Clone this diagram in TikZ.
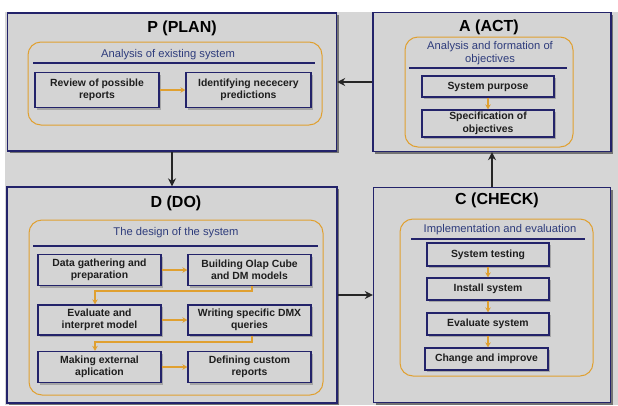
\documentclass[tikz,border=0pt]{standalone}
\usepackage{fontspec}
\setmainfont{Liberation Sans}
\usetikzlibrary{shadows,arrows.meta}
\definecolor{navy}{HTML}{23236A}
\definecolor{bgrey}{HTML}{D6D6D6}
\definecolor{boxgrey}{HTML}{D4D4D4}
\definecolor{orng}{HTML}{E0A030}
\definecolor{subblue}{HTML}{2E3C7C}
\definecolor{txt}{HTML}{1E1E1E}
\tikzset{
  outerbox/.style={draw=navy, line width=1.3pt, fill=boxgrey, inner sep=0pt,
    drop shadow={shadow xshift=2pt, shadow yshift=-2pt, fill=black!55, opacity=1}},
  group/.style={draw=orng, line width=1pt, rounded corners=13pt, inner sep=0pt},
  stepbox/.style={draw=navy, line width=1.3pt, fill=boxgrey, inner sep=0pt, align=center,
    font=\bfseries\fontsize{10.4}{12.5}\selectfont, text=txt,
    drop shadow={shadow xshift=2pt, shadow yshift=-2pt, fill=black!35, opacity=1}},
  maintitle/.style={font=\bfseries\fontsize{16}{18}\selectfont, text=black, inner sep=0pt},
  subtitle/.style={font=\fontsize{11.2}{13}\selectfont, text=subblue, inner sep=0pt, align=center},
  rule/.style={draw=navy, line width=1.3pt},
  bigarrow/.style={draw=black!85, line width=1.8pt, -{Stealth[length=8pt,width=8pt]}},
  smallarrow/.style={draw=orng, line width=1.5pt, -{Stealth[length=5pt,width=5.5pt]}}
}
\begin{document}
\begin{tikzpicture}[x=1pt,y=-1pt]
\useasboundingbox (0,0) rectangle (618,405);
\fill[bgrey] (5,12) rectangle (618,405);

% outer boxes
\node[outerbox, minimum width=329pt, minimum height=138pt] (P) at (172,82) {};
\node[outerbox, minimum width=238pt, minimum height=139pt] (A) at (492,82) {};
\node[outerbox, minimum width=330pt, minimum height=216pt] (D) at (172,295) {};
\node[outerbox, minimum width=237pt, minimum height=215pt] (C) at (492,295) {};

% titles
\node[maintitle] (Pt) at (182,28) {P (PLAN)};
\node[maintitle] (At) at (489,27.5) {A (ACT)};
\node[maintitle] (Dt) at (176,203) {D (DO)};
\node[maintitle] (Ct) at (497,200) {C (CHECK)};

% ---- PLAN
\node[group, minimum width=294pt, minimum height=83pt] (Pg) at (175,83.5) {};
\node[subtitle] (Ps) at (168,55) {Analysis of existing system};
\coordinate (Pl1) at (33,63); \coordinate (Pl2) at (315,63);
\draw[rule] (Pl1) -- (Pl2);
\node[stepbox, minimum width=124pt, minimum height=35pt] (P1) at (97,90) {Review of possible\\reports};
\node[stepbox, minimum width=125pt, minimum height=35pt] (P2) at (248.5,90) {Identifying nececery\\predictions};
\draw[smallarrow] (P1) -- (P2);

% ---- ACT
\node[group, minimum width=168pt, minimum height=110pt] (Ag) at (489,92) {};
\node[subtitle] (As) at (490,53.5) {Analysis and formation of\\objectives};
\coordinate (Al1) at (409,68); \coordinate (Al2) at (567,68);
\draw[rule] (Al1) -- (Al2);
\node[stepbox, minimum width=132pt, minimum height=21pt] (A1) at (488,86.5) {System purpose};
\node[stepbox, minimum width=132pt, minimum height=27pt] (A2) at (488,123.5) {Specification of\\objectives};
\draw[smallarrow] (A1) -- (A2);

% ---- DO
\node[group, minimum width=294pt, minimum height=175pt] (Dg) at (176,307.5) {};
\node[subtitle] (Ds) at (176,233) {The design of the system};
\coordinate (Dl1) at (33,246); \coordinate (Dl2) at (318,246);
\draw[rule] (Dl1) -- (Dl2);
\node[stepbox, minimum width=123pt, minimum height=31pt] (D1) at (99.5,270) {Data gathering and\\preparation};
\node[stepbox, minimum width=123pt, minimum height=31pt] (D2) at (249.5,270) {Building Olap Cube\\and DM models};
\node[stepbox, minimum width=123pt, minimum height=30pt] (D3) at (99.5,320) {Evaluate and\\interpret model};
\node[stepbox, minimum width=123pt, minimum height=30pt] (D4) at (249.5,320) {Writing specific DMX\\queries};
\node[stepbox, minimum width=123pt, minimum height=31pt] (D5) at (99.5,367) {Making external\\aplication};
\node[stepbox, minimum width=123pt, minimum height=31pt] (D6) at (249.5,367) {Defining custom\\reports};
\draw[smallarrow] (D1) -- (D2);
\draw[smallarrow] (D3) -- (D4);
\draw[smallarrow] (D5) -- (D6);
\coordinate (Da) at (252,291); \coordinate (Db) at (95,291);
\coordinate (Dc) at (252,342); \coordinate (Dd) at (95,342);
\draw[smallarrow] (D2.south -| Da) -- (Da) -- (Db) -- (D3.north -| Db);
\draw[smallarrow] (D4.south -| Dc) -- (Dc) -- (Dd) -- (D5.north -| Dd);

% ---- CHECK
\node[group, minimum width=193pt, minimum height=157pt] (Cg) at (496.5,297.5) {};
\node[subtitle] (Cs) at (500,230) {Implementation and evaluation};
\coordinate (Cl1) at (411,239); \coordinate (Cl2) at (585,239);
\draw[rule] (Cl1) -- (Cl2);
\node[stepbox, minimum width=122pt, minimum height=23pt] (C1) at (488,254.5) {System testing};
\node[stepbox, minimum width=122pt, minimum height=22pt] (C2) at (488,289) {Install system};
\node[stepbox, minimum width=122pt, minimum height=22pt] (C3) at (488,324) {Evaluate system};
\node[stepbox, minimum width=123pt, minimum height=22pt] (C4) at (486.5,359) {Change and improve};
\draw[smallarrow] (C1) -- (C2);
\draw[smallarrow] (C2) -- (C3);
\draw[smallarrow] (C3) -- (C4.north -| C3.south);

% ---- cycle arrows
\draw[bigarrow] (P) -- (D);
\draw[bigarrow] (D) -- (C);
\draw[bigarrow] (C) -- (A);
\draw[bigarrow] (A) -- (P);
\end{tikzpicture}
\end{document}
